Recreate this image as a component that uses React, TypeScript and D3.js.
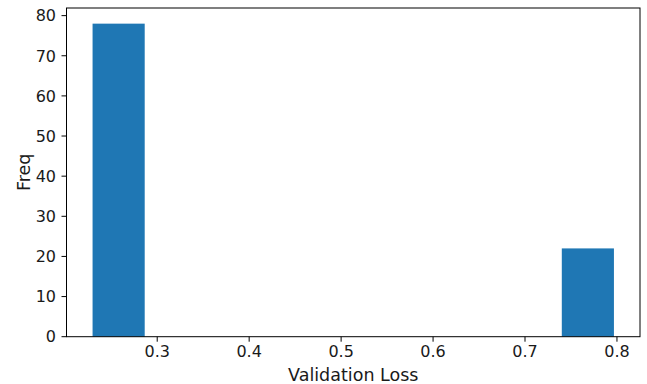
import React from "react";
import * as d3 from "d3";

// histogram bins (edges) and counts
const binEdges = [0.2297, 0.2864, 0.3431, 0.3998, 0.4565, 0.5132, 0.5699, 0.6266, 0.6833, 0.74, 0.7967];
const counts = [78, 0, 0, 0, 0, 0, 0, 0, 0, 22];
const xTicks = [0.3, 0.4, 0.5, 0.6, 0.7, 0.8];
const yTicks = [0, 10, 20, 30, 40, 50, 60, 70, 80];

const App = () => {
  const width = 647;
  const height = 384;
  const margin = { left: 66.5, right: 7, top: 8, bottom: 47.3 };
  const x0 = binEdges[0];
  const x1 = binEdges[binEdges.length - 1];
  const span = x1 - x0;
  const x = d3
    .scaleLinear()
    .domain([x0 - span * 0.05, x1 + span * 0.05])
    .range([margin.left, width - margin.right]);
  const yMax = d3.max(counts)! * 1.05;
  const y = d3
    .scaleLinear()
    .domain([0, yMax])
    .range([height - margin.bottom, margin.top]);

  const bins = counts.map((c, i) => ({ c, a: binEdges[i], b: binEdges[i + 1] }));
  const font = "DejaVu Sans, sans-serif";
  const plotBottom = height - margin.bottom;
  const tickSize = 16;
  const labelSize = 17.5;

  return (
    <svg
      width={width}
      height={height}
      style={{ position: "absolute", left: 0, top: 0, background: "#fff" }}
      fontFamily={font}
    >
      {/* bars */}
      {bins
        .filter((d) => d.c > 0)
        .map((d, i) => (
          <rect
            key={i}
            x={x(d.a)}
            y={y(d.c)}
            width={x(d.b) - x(d.a)}
            height={plotBottom - y(d.c)}
            fill="#1f77b4"
          />
        ))}

      {/* frame */}
      <rect
        x={margin.left}
        y={margin.top}
        width={width - margin.right - margin.left}
        height={plotBottom - margin.top}
        fill="none"
        stroke="#000"
        strokeWidth={1}
      />

      {/* x ticks */}
      {xTicks.map((t) => (
        <g key={t} transform={`translate(${x(t)},${plotBottom})`}>
          <line y2={5} stroke="#000" strokeWidth={1} />
          <text y={20.8} textAnchor="middle" fontSize={tickSize} fill="#1a1a1a">
            {d3.format(".1f")(t)}
          </text>
        </g>
      ))}

      {/* y ticks */}
      {yTicks.map((t) => (
        <g key={t} transform={`translate(${margin.left},${y(t)})`}>
          <line x2={-5} stroke="#000" strokeWidth={1} />
          <text x={-10.5} dy="0.36em" textAnchor="end" fontSize={tickSize} fill="#1a1a1a">
            {t}
          </text>
        </g>
      ))}

      {/* axis labels */}
      <text x={(margin.left + width - margin.right) / 2} y={380.5} textAnchor="middle" fontSize={labelSize} fill="#1a1a1a">
        Validation Loss
      </text>
      <text
        transform={`translate(29.5,${(margin.top + plotBottom) / 2}) rotate(-90)`}
        textAnchor="middle"
        fontSize={labelSize}
        fill="#1a1a1a"
      >
        Freq
      </text>
    </svg>
  );
};

export default App;
